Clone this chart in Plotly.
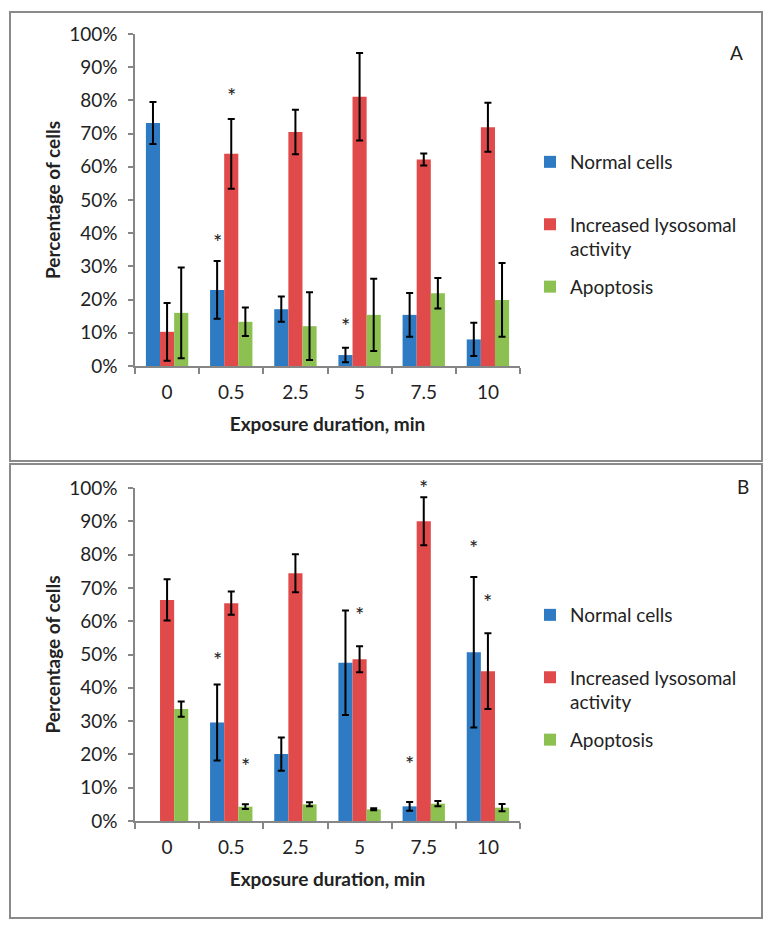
import plotly.graph_objects as go

# the page body has an 8px margin, so the figure is drawn 8px smaller
OFF = 8
W, H = 774 - 2 * OFF, 935 - 2 * OFF

categories = ["0", "0.5", "2.5", "5", "7.5", "10"]
series_names = ["Normal cells<br>&nbsp;", "Increased lysosomal<br>activity", "Apoptosis"]
colors = ["#2E7BC4", "#E04A4A", "#8CC152"]

# panel A
a_normal = [73.2, 22.9, 17.1, 3.3, 15.4, 8.0]
a_normal_err = [6.3, 8.7, 3.8, 2.2, 6.6, 5.0]
a_lyso = [10.3, 63.9, 70.5, 81.1, 62.2, 71.9]
a_lyso_err = [8.7, 10.5, 6.7, 13.2, 1.8, 7.4]
a_apop = [16.0, 13.3, 12.0, 15.4, 21.9, 19.9]
a_apop_err = [13.7, 4.3, 10.2, 10.9, 4.6, 11.1]

# panel B
b_normal = [None, 29.6, 20.1, 47.5, 4.4, 50.7]
b_normal_err = [None, 11.4, 5.0, 15.7, 1.3, 22.6]
b_lyso = [66.4, 65.4, 74.4, 48.6, 90.0, 45.0]
b_lyso_err = [6.2, 3.5, 5.7, 3.9, 7.2, 11.4]
b_apop = [33.6, 4.3, 5.0, 3.5, 5.2, 4.0]
b_apop_err = [2.3, 0.7, 0.6, 0.3, 0.8, 1.1]

# significance marks: (category, series index, y position in %)
a_stars = [("0.5", 0, 38.5), ("0.5", 1, 82.5), ("5", 0, 13.0)]
b_stars = [("0.5", 0, 49.3), ("0.5", 2, 17.6), ("5", 1, 63.0),
           ("7.5", 0, 18.3), ("7.5", 1, 101.0), ("10", 0, 83.0), ("10", 1, 66.9)]

y_ticks = list(range(0, 101, 10))
y_labels = [str(v) + "%" for v in y_ticks]

FONT = "Lato, Carlito, Calibri, sans-serif"
TXT = "#222222"
AXIS = "#868686"
PLOT_H = 332  # pixel height of each plot area, used to lift marks above 100%


def px_x(p):
    return (p - OFF) / W


def px_y(p):
    return 1 - (p - OFF) / H


fig = go.Figure()

panels = [
    ("x", "y", [a_normal, a_lyso, a_apop], [a_normal_err, a_lyso_err, a_apop_err], "legend"),
    ("x2", "y2", [b_normal, b_lyso, b_apop], [b_normal_err, b_lyso_err, b_apop_err], "legend2"),
]

for xa, ya, vals, errs, leg in panels:
    for i in range(3):
        fig.add_trace(go.Bar(
            x=categories, y=vals[i], name=series_names[i],
            marker=dict(color=colors[i], line=dict(width=0)),
            error_y=dict(type="data", array=errs[i], visible=True,
                         color="black", thickness=2, width=3.5),
            xaxis=xa, yaxis=ya, legend=leg, legendgroup=leg + str(i),
            showlegend=True,
        ))

bar_shift = [-14, 0, 14]
for xa, ya, stars in [("x", "y", a_stars), ("x2", "y2", b_stars)]:
    for cat, s, yv in stars:
        # annotations outside the axis range are hidden, so clamp and shift
        extra = max(yv - 100, 0) * PLOT_H / 100
        fig.add_annotation(x=categories.index(cat), y=min(yv, 100), xref=xa, yref=ya,
                           text="*", showarrow=False, xshift=bar_shift[s],
                           yshift=-3 + extra,
                           font=dict(size=22, color=TXT, family=FONT))

axis_common = dict(showgrid=False, zeroline=False, showline=True,
                   linecolor=AXIS, linewidth=1.5, ticks="outside",
                   tickcolor=AXIS, tickwidth=1.5, automargin=False,
                   tickfont=dict(size=19, color=TXT, family=FONT))
x_title = dict(text="<b>Exposure duration, min</b>", standoff=16,
               font=dict(size=19, family=FONT, color=TXT))
y_title = dict(text="<b>Percentage of cells</b>", standoff=4,
               font=dict(size=19, family=FONT, color=TXT))

x_dom = [px_x(135), px_x(520)]
fig.update_layout(
    width=W, height=H,
    margin=dict(l=0, r=0, t=0, b=0, pad=0, autoexpand=False),
    paper_bgcolor="white", plot_bgcolor="white",
    barmode="group", bargap=0.34, bargroupgap=0,
    showlegend=True,
    font=dict(family=FONT, color=TXT),
    xaxis=dict(domain=x_dom, anchor="y", type="category", range=[-0.5, 5.5],
               tickson="boundaries", ticklen=6, ticklabelstandoff=8,
               title=x_title, **axis_common),
    yaxis=dict(domain=[px_y(366), px_y(34)], anchor="x", range=[0, 100],
               tickvals=y_ticks, ticktext=y_labels, ticklen=5,
               ticklabelstandoff=7, title=y_title, **axis_common),
    xaxis2=dict(domain=x_dom, anchor="y2", type="category", range=[-0.5, 5.5],
                tickson="boundaries", ticklen=6, ticklabelstandoff=8,
                title=x_title, **axis_common),
    yaxis2=dict(domain=[px_y(821), px_y(488)], anchor="x2", range=[0, 100],
                tickvals=y_ticks, ticktext=y_labels, ticklen=5,
                ticklabelstandoff=7, title=y_title, **axis_common),
)

leg_common = dict(xanchor="left", yanchor="top", valign="top",
                  font=dict(size=19, family=FONT, color=TXT),
                  bgcolor="rgba(0,0,0,0)", itemwidth=30, tracegroupgap=10,
                  traceorder="grouped")
fig.update_layout(
    legend=dict(x=px_x(530), y=px_y(143), **leg_common),
    legend2=dict(x=px_x(530), y=px_y(596), **leg_common),
)

# panel frames
fig.add_shape(type="rect", xref="paper", yref="paper",
              x0=px_x(10), x1=px_x(762), y0=px_y(461), y1=px_y(12),
              line=dict(color="#8a8a8a", width=2))
fig.add_shape(type="rect", xref="paper", yref="paper",
              x0=px_x(10), x1=px_x(762), y0=px_y(918), y1=px_y(464),
              line=dict(color="#8a8a8a", width=2))

for label, lx, ly in [("A", 736, 53), ("B", 743, 487)]:
    fig.add_annotation(x=px_x(lx), y=px_y(ly), xref="paper", yref="paper", text=label,
                       xanchor="center", yanchor="middle", showarrow=False,
                       font=dict(size=19, family=FONT, color=TXT))

fig.write_html("out.html")
